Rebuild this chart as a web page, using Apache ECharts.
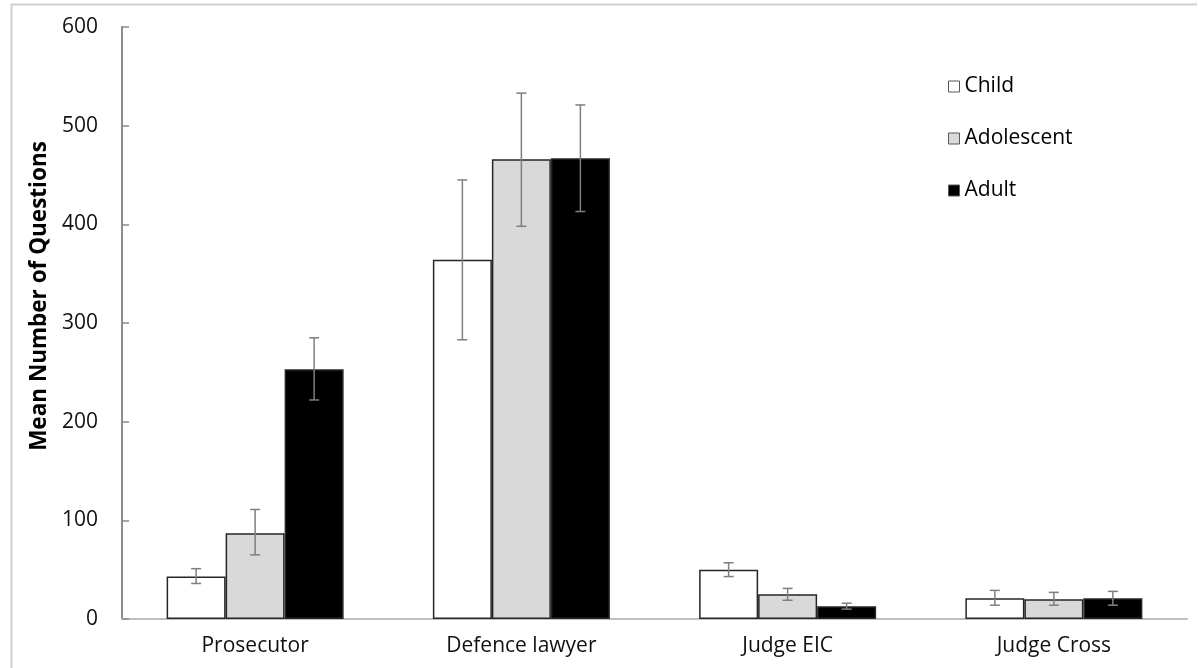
<!DOCTYPE html>
<html>
<head>
<meta charset="utf-8">
<script src="https://cdn.jsdelivr.net/npm/echarts@6/dist/echarts.min.js"></script>
<style>
html,body{margin:0;padding:0;background:#fff;}
#main{width:1198px;height:668px;}
</style>
</head>
<body>
<div id="main"></div>
<script>
const categories = ['Prosecutor', 'Defence lawyer', 'Judge EIC', 'Judge Cross'];
const seriesNames = ['Child', 'Adolescent', 'Adult'];
const childMean = [43, 364, 50, 21];
const adolescentMean = [87, 466, 25, 20];
const adultMean = [253, 467, 13, 21];
const childErrLow = [36, 283, 43, 14];
const childErrHigh = [51, 445, 57, 29];
const adolescentErrLow = [65, 398, 19, 14];
const adolescentErrHigh = [111, 533, 31, 27];
const adultErrLow = [222, 413, 10, 14];
const adultErrHigh = [285, 521, 16, 28];
const yTicks = [0, 100, 200, 300, 400, 500, 600];

const means = [childMean, adolescentMean, adultMean];
const errLow = [childErrLow, adolescentErrLow, adultErrLow];
const errHigh = [childErrHigh, adolescentErrHigh, adultErrHigh];
const fills = ['#ffffff', '#d9d9d9', '#000000'];
const BAR_W = 59;
const FONT = '"Open Sans", "Liberation Sans", sans-serif';

const chart = echarts.init(document.getElementById('main'), null, {renderer: 'canvas'});

const barSeries = seriesNames.map((name, i) => ({
  name: name,
  type: 'bar',
  data: means[i],
  barWidth: BAR_W,
  barGap: '0%',
  itemStyle: {color: fills[i], borderColor: '#262626', borderWidth: 1.5},
  emphasis: {disabled: true},
  z: 2
}));

const errSeries = seriesNames.map((name, i) => ({
  type: 'custom',
  name: name + ' err',
  data: categories.map((c, j) => [j, errLow[i][j], errHigh[i][j]]),
  z: 5,
  silent: true,
  renderItem: function (params, api) {
    const xi = api.value(0);
    const lo = api.coord([xi, api.value(1)]);
    const hi = api.coord([xi, api.value(2)]);
    const x = lo[0] + (i - 1) * BAR_W;
    const cap = 5;
    const st = {stroke: '#7f7f7f', lineWidth: 1.5};
    return {
      type: 'group',
      children: [
        {type: 'line', shape: {x1: x, y1: lo[1], x2: x, y2: hi[1]}, style: st},
        {type: 'line', shape: {x1: x - cap, y1: lo[1], x2: x + cap, y2: lo[1]}, style: st},
        {type: 'line', shape: {x1: x - cap, y1: hi[1], x2: x + cap, y2: hi[1]}, style: st}
      ]
    };
  }
}));

const option = {
  animation: false,
  backgroundColor: '#ffffff',
  grid: {left: 122, right: 11, top: 27, bottom: 49, containLabel: false},
  legend: {
    data: seriesNames,
    orient: 'vertical',
    left: 943,
    top: 70,
    icon: 'rect',
    itemWidth: 11,
    itemHeight: 11,
    itemGap: 29,
    textStyle: {fontFamily: FONT, fontSize: 21, color: '#000', lineHeight: 23, padding: [0, 0, 0, 0]},
    itemStyle: {borderColor: '#595959', borderWidth: 1}
  },
  xAxis: {
    type: 'category',
    data: categories,
    axisLine: {lineStyle: {color: '#bfbfbf', width: 2}},
    axisTick: {show: false},
    axisLabel: {fontFamily: FONT, fontSize: 21, color: '#111', margin: 17}
  },
  yAxis: {
    type: 'value',
    min: yTicks[0],
    max: yTicks[yTicks.length - 1],
    interval: 100,
    name: 'Mean Number of Questions',
    nameLocation: 'middle',
    nameGap: 70,
    nameTextStyle: {fontFamily: FONT, fontSize: 22.5, fontWeight: 'bold', color: '#000', padding: [0, 0, 0, 54]},
    axisLine: {show: true, lineStyle: {color: '#8c8c8c', width: 2}},
    axisTick: {show: true, inside: true, length: 7, lineStyle: {color: '#8c8c8c', width: 1.5}},
    splitLine: {show: false},
    axisLabel: {fontFamily: FONT, fontSize: 21, color: '#111', margin: 24}
  },
  graphic: [
    {type: 'line', shape: {x1: 11, y1: 4.5, x2: 1197, y2: 4.5}, style: {stroke: '#d0d0d0', lineWidth: 2}, silent: true},
    {type: 'line', shape: {x1: 11.5, y1: 4, x2: 11.5, y2: 668}, style: {stroke: '#d0d0d0', lineWidth: 2}, silent: true}
  ],
  series: barSeries.concat(errSeries)
};
chart.setOption(option);
</script>
</body>
</html>
